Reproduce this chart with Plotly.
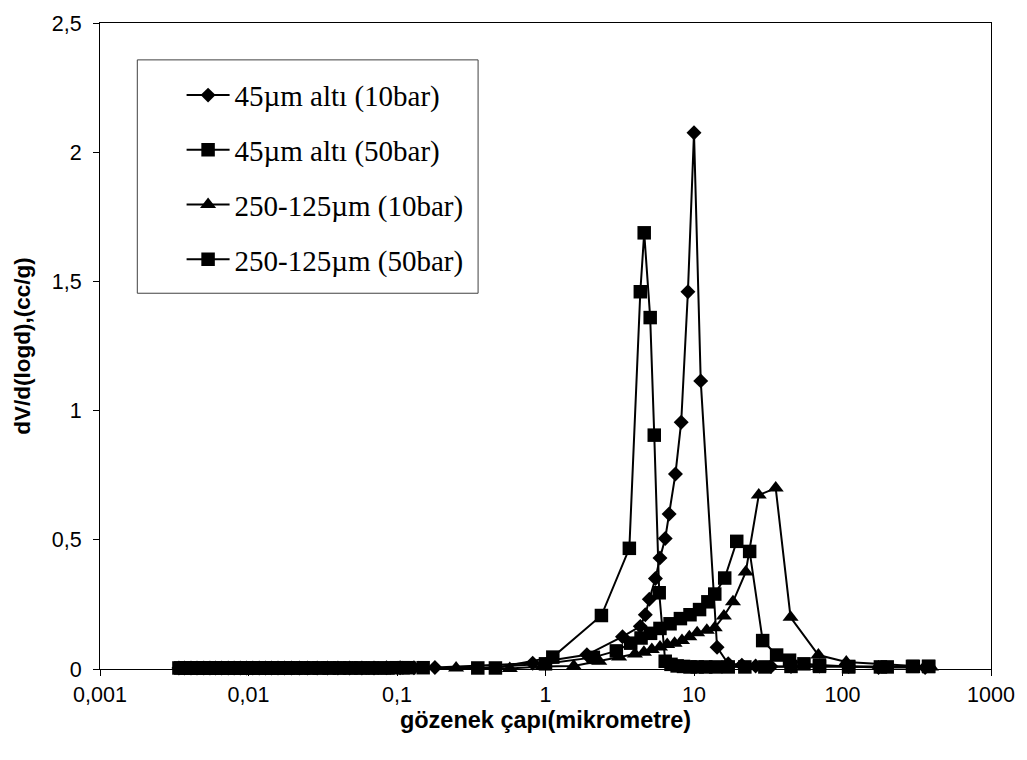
import plotly.graph_objects as go

# ---------------- data ----------------
names = ["45\u00b5m alt\u0131 (10bar)", "45\u00b5m alt\u0131 (50bar)",
         "250-125\u00b5m (10bar)", "250-125\u00b5m (50bar)"]

x_s1 = [0.0034, 0.0037, 0.0041, 0.0045, 0.0050, 0.0055, 0.0060, 0.0066, 0.0073, 0.0080,
        0.0088, 0.0097, 0.0107, 0.0118, 0.0130, 0.0143, 0.0158, 0.0175, 0.0195, 0.022,
        0.025, 0.029, 0.034, 0.040, 0.048, 0.058, 0.070, 0.085, 0.105, 0.13, 0.18, 0.82,
        1.9, 3.3, 4.35, 4.7, 5.0, 5.5, 5.9, 6.4, 6.8, 7.5, 8.2, 9.1, 10.0, 11.1, 14.3,
        17.0, 21.0, 26.0, 33.0, 45.0, 70.0, 110.0, 175.0, 360.0]
y_s1 = [0.004, 0.004, 0.004, 0.004, 0.004, 0.004, 0.004, 0.004, 0.004, 0.004,
        0.004, 0.004, 0.004, 0.004, 0.004, 0.004, 0.004, 0.004, 0.004, 0.004,
        0.004, 0.004, 0.004, 0.004, 0.004, 0.004, 0.004, 0.005, 0.005, 0.005, 0.006, 0.022,
        0.055, 0.125, 0.165, 0.21, 0.27, 0.35, 0.43, 0.505, 0.60, 0.755, 0.955, 1.46, 2.075, 1.115, 0.084,
        0.02, 0.015, 0.012, 0.01, 0.01, 0.012, 0.01, 0.006, 0.006]

x_s2 = [0.0035, 0.0038, 0.0042, 0.0046, 0.0051, 0.0056, 0.0062, 0.0068, 0.0075, 0.0083,
        0.0091, 0.0100, 0.0110, 0.0122, 0.0135, 0.0150, 0.0165, 0.0185, 0.0205, 0.023,
        0.026, 0.030, 0.035, 0.041, 0.049, 0.059, 0.071, 0.087, 0.11, 0.15, 0.46, 1.12,
        2.38, 3.67, 4.35, 4.62, 5.07, 5.4, 5.83, 6.4, 7.0, 7.7, 8.5, 9.4, 10.5, 12.0,
        14.0, 17.0, 22.0, 30.0, 45.0, 70.0, 110.0, 200.0, 296.0, 380.0]
y_s2 = [0.004, 0.004, 0.004, 0.004, 0.004, 0.004, 0.004, 0.004, 0.004, 0.004,
        0.004, 0.004, 0.004, 0.004, 0.004, 0.004, 0.004, 0.004, 0.004, 0.004,
        0.004, 0.004, 0.004, 0.004, 0.004, 0.004, 0.004, 0.004, 0.005, 0.005, 0.004, 0.046,
        0.207, 0.467, 1.46, 1.688, 1.36, 0.905, 0.295, 0.03, 0.018, 0.012, 0.01, 0.008, 0.008, 0.008,
        0.008, 0.008, 0.008, 0.008, 0.01, 0.01, 0.008, 0.008, 0.01, 0.01]

x_s3 = [0.0036, 0.0040, 0.0044, 0.0049, 0.0054, 0.0059, 0.0065, 0.0072, 0.0079, 0.0087,
        0.0096, 0.0106, 0.0117, 0.0129, 0.0142, 0.0157, 0.0173, 0.019, 0.021, 0.024,
        0.027, 0.031, 0.036, 0.042, 0.050, 0.060, 0.072, 0.09, 0.14, 0.25, 0.575, 0.95,
        1.55, 2.3, 3.13, 4.0, 4.6, 5.2, 5.9, 6.6, 7.4, 8.3, 9.3, 10.5, 12.2, 13.8, 15.9,
        18.3, 22.3, 27.3, 35.5, 44.7, 68.8, 106.0, 394.0]
y_s3 = [0.004, 0.004, 0.004, 0.004, 0.004, 0.004, 0.004, 0.004, 0.004, 0.004,
        0.004, 0.004, 0.004, 0.004, 0.004, 0.004, 0.004, 0.004, 0.004, 0.004,
        0.004, 0.004, 0.004, 0.004, 0.004, 0.004, 0.004, 0.005, 0.005, 0.004, 0.002, 0.01,
        0.012, 0.03, 0.046, 0.058, 0.065, 0.075, 0.085, 0.095, 0.10, 0.11, 0.125, 0.14, 0.15, 0.16, 0.205,
        0.26, 0.375, 0.673, 0.70, 0.20, 0.054, 0.027, 0.008]

x_s4 = [0.0034, 0.0038, 0.0042, 0.0047, 0.0052, 0.0057, 0.0063, 0.0069, 0.0076, 0.0084,
        0.0093, 0.0102, 0.0113, 0.0125, 0.0138, 0.0152, 0.0168, 0.0186, 0.021, 0.0235,
        0.0265, 0.030, 0.035, 0.041, 0.048, 0.057, 0.068, 0.082, 0.10, 0.12, 0.35, 1.0,
        2.1, 3.0, 3.75, 4.4, 5.1, 5.9, 6.9, 8.1, 9.4, 10.9, 12.4, 13.8, 16.1, 19.4, 23.7,
        29.0, 36.0, 44.0, 55.0, 70.0, 110.0, 180.0, 300.0, 380.0]
y_s4 = [0.004, 0.004, 0.004, 0.004, 0.004, 0.004, 0.004, 0.004, 0.004, 0.004,
        0.004, 0.004, 0.004, 0.004, 0.004, 0.004, 0.004, 0.004, 0.004, 0.004,
        0.004, 0.004, 0.004, 0.004, 0.004, 0.004, 0.004, 0.004, 0.005, 0.005, 0.004, 0.02,
        0.045, 0.07, 0.10, 0.12, 0.138, 0.157, 0.175, 0.195, 0.21, 0.23, 0.26, 0.29, 0.352, 0.494, 0.455,
        0.11, 0.054, 0.034, 0.02, 0.015, 0.01, 0.008, 0.01, 0.01]

x_tickvals = [0.001, 0.01, 0.1, 1, 10, 100, 1000]
x_ticktext = ["0,001", "0,01", "0,1", "1", "10", "100", "1000"]
y_tickvals = [0, 0.5, 1, 1.5, 2, 2.5]
y_ticktext = ["0", "0,5", "1", "1,5", "2", "2,5"]

series = [
    (names[0], x_s1, y_s1, "diamond", 11.5),
    (names[1], x_s2, y_s2, "square", 13.5),
    (names[2], x_s3, y_s3, "triangle-up", 14),
    (names[3], x_s4, y_s4, "square", 13.5),
]

fig = go.Figure()
for i, (nm, xs, ys, sym, sz) in enumerate(series):
    fig.add_trace(go.Scatter(
        x=xs, y=ys, name=nm, mode="lines+markers",
        line=dict(color="black", width=2),
        marker=dict(symbol=sym, size=sz, color="black", line=dict(width=0)),
        cliponaxis=False, legendgroup=f"g{i}",
    ))

# plot-area geometry in pixels
L, R, T, B = 100, 1027 - 995.5, 15.7, 760 - 669
PW, PH = 1027 - L - R, 760 - T - B


def px_x(p):
    return (p - L) / PW


def px_y(p):
    return 1 - (p - T) / PH


# legend frame
fig.add_shape(type="rect", xref="paper", yref="paper",
              x0=px_x(137.5), x1=px_x(480), y0=px_y(289), y1=px_y(53),
              line=dict(color="#404040", width=1), fillcolor="rgba(0,0,0,0)", layer="above")

fig.update_layout(
    width=1027, height=760, autosize=False,
    margin=dict(l=L, r=R, t=T, b=B, pad=0),
    paper_bgcolor="white", plot_bgcolor="white",
    font=dict(family="Liberation Sans, Arial, sans-serif", color="black", size=21),
    showlegend=True,
    legend=dict(
        x=px_x(182), y=px_y(63),
        xanchor="left", yanchor="top",
        borderwidth=0, bgcolor="rgba(0,0,0,0)",
        font=dict(family="Liberation Serif, Times New Roman, serif", size=29, color="black"),
        traceorder="grouped", tracegroupgap=14, itemwidth=43,
    ),
    xaxis=dict(
        type="log", range=[-3, 3],
        tickvals=x_tickvals, ticktext=x_ticktext,
        showgrid=False, zeroline=False,
        showline=True, linecolor="black", linewidth=1, mirror=True,
        ticks="outside", ticklen=6, tickcolor="black",
        tickfont=dict(size=21.5),
        title=dict(text="<b>g\u00f6zenek \u00e7ap\u0131(mikrometre)</b>", font=dict(size=23.5), standoff=2),
    ),
    yaxis=dict(
        range=[0, 2.5],
        tickvals=y_tickvals, ticktext=y_ticktext,
        showgrid=False, zeroline=False,
        showline=True, linecolor="black", linewidth=1, mirror=True,
        ticks="outside", ticklen=6, tickcolor="black",
        tickfont=dict(size=21.5), ticklabelstandoff=7,
        title=dict(text="<b>dV/d(logd),(cc/g)</b>", font=dict(size=22.5), standoff=14),
    ),
)

fig.write_html("out.html")
